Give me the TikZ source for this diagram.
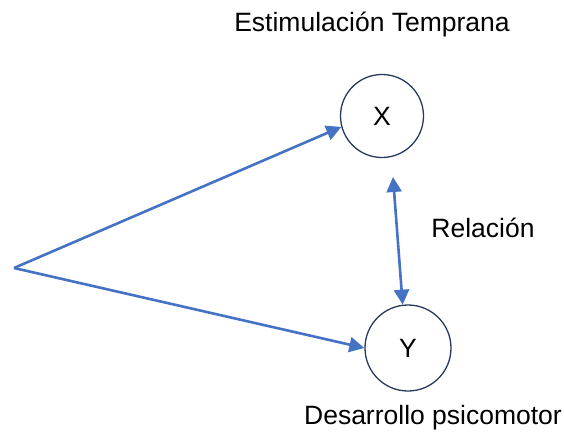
\documentclass[tikz,border=0pt]{standalone}
\usepackage{fontspec}
\setmainfont{Liberation Sans}
\usetikzlibrary{arrows.meta}
\usetikzlibrary{positioning}
\definecolor{arrowcol}{RGB}{68,114,196}
\definecolor{circcol}{RGB}{40,58,94}
\tikzset{var/.style={draw=circcol, line width=1.3pt, circle, inner sep=0pt},
  rel/.style={draw=arrowcol, line width=2.6pt, -{Triangle[length=15pt,width=15pt]}},
  lbl/.style={font=\fontsize{26.5}{30}\selectfont}}
\begin{document}
\begin{tikzpicture}[x=1pt,y=-1pt]
  \useasboundingbox (0,0) rectangle (564,434);
  \node (X) at (382,116) [var, minimum size=83pt, lbl] {X};
  \node (Y) at (408,348) [var, minimum size=86pt, lbl] {Y};
  \coordinate (o) at (14,268);
  \draw [rel] (o) -- (X.195);
  \draw [rel] (o) -- (Y.180);
  \draw [rel, {Triangle[length=15pt,width=15pt]}-{Triangle[length=15pt,width=15pt]}, shorten <=20pt] (X.-77) -- (Y.97);
  \node (tx) at (372,24) [lbl] {Estimulación Temprana};
  \node (tr) at (483,228) [lbl] {Relación};
  \node (ty) at (433,418) [lbl] {Desarrollo psicomotor};
\end{tikzpicture}
\end{document}
